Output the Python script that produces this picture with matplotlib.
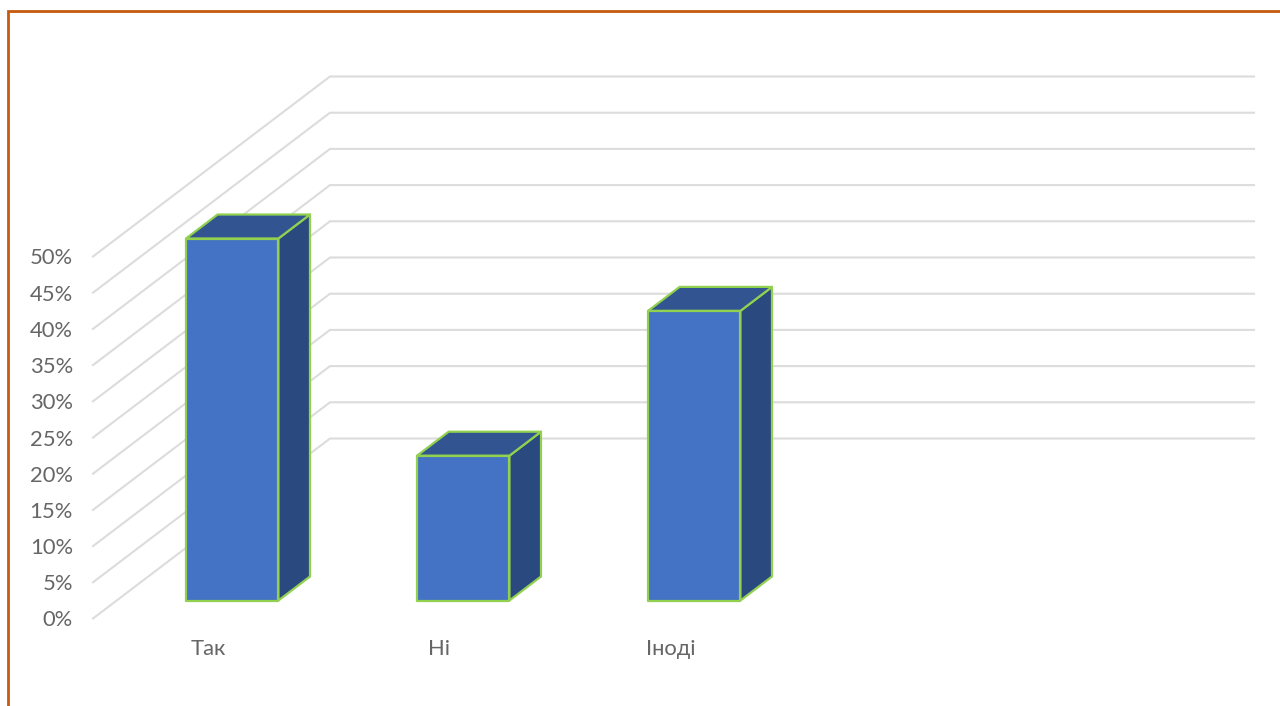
import matplotlib
matplotlib.use("Agg")
import matplotlib.pyplot as plt
from matplotlib.lines import Line2D
from matplotlib.ticker import PercentFormatter

categories = ["Так", "Ні", "Іноді"]
values = [50, 20, 40]
grid_levels = [0, 5, 10, 15, 20, 25, 30, 35, 40, 45, 50]

n_slots = 4
bar_width = 0.4
bar_front = 0.1
bar_back = 0.2333

# how far the back wall sits from the front edge, in data units
depth_x = 237 / 231
depth_y = 180 / 7.24

grid_color = "#dcdcdc"
text_color = "#666666"
edge_color = "#92d050"
front_color = "#4472c4"
top_color = "#325592"
side_color = "#2a4a7f"
border_color = "#c55a11"

plt.rcParams["font.family"] = ["Lato", "Open Sans", "DejaVu Sans"]


def project(x, y, depth):
    return x + depth * depth_x, y + depth * depth_y


def face(ax, corners, color, z):
    xs, ys = zip(*[project(*c) for c in corners])
    ax.fill(xs, ys, facecolor=color, edgecolor=edge_color, linewidth=1.6,
            joinstyle="round", clip_on=False, zorder=z)


fig = plt.figure(figsize=(12.8, 7.06), dpi=100, facecolor="white")
ax = fig.add_axes([93 / 1280, 87.5 / 706, 924 / 1280, 362 / 706])
ax.set_xlim(0, n_slots)
ax.set_ylim(0, 50)
ax.patch.set_visible(False)
for spine in ax.spines.values():
    spine.set_visible(False)

# side wall diagonals and back wall lines
for level in grid_levels:
    xs, ys = zip(project(0, level, 0), project(0, level, 1), project(n_slots, level, 1))
    ax.plot(xs, ys, color=grid_color, linewidth=1.5, clip_on=False, zorder=1,
            solid_joinstyle="miter")

for i, val in enumerate(values):
    left = i + 0.5 - bar_width / 2
    right = i + 0.5 + bar_width / 2
    # side and top first, front face on top of them
    face(ax, [(right, 0, bar_front), (right, 0, bar_back),
              (right, val, bar_back), (right, val, bar_front)], side_color, 3)
    face(ax, [(left, val, bar_front), (right, val, bar_front),
              (right, val, bar_back), (left, val, bar_back)], top_color, 3)
    face(ax, [(left, 0, bar_front), (right, 0, bar_front),
              (right, val, bar_front), (left, val, bar_front)], front_color, 4)

ax.set_yticks(grid_levels)
ax.yaxis.set_major_formatter(PercentFormatter(decimals=0))
ax.set_xticks([i + 0.5 for i in range(len(categories))])
ax.set_xticklabels(categories)
ax.tick_params(axis="y", length=0, pad=14.5, labelsize=15.8, labelcolor=text_color)
ax.tick_params(axis="x", length=0, pad=15, labelsize=15.8, labelcolor=text_color)

# frame around the chart, open at the right and bottom of the canvas
fig.add_artist(Line2D([8 / 1280, 8 / 1280, 1], [0, 1 - 11 / 706, 1 - 11 / 706],
                      color=border_color, linewidth=2.0, solid_joinstyle="miter"))

fig.savefig("out.png", dpi=100)
plt.close(fig)
